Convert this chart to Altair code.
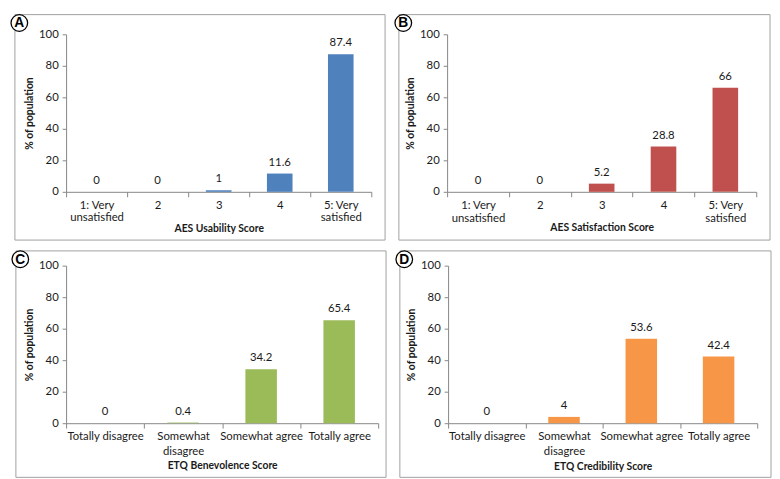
import altair as alt
import pandas as pd

FONT = "Lato"

a_cats = ["1: Very\nunsatisfied", "2", "3", "4", "5: Very\nsatisfied"]
a_vals = [0, 0, 1, 11.6, 87.4]
b_cats = ["1: Very\nunsatisfied", "2", "3", "4", "5: Very\nsatisfied"]
b_vals = [0, 0, 5.2, 28.8, 66]
c_cats = ["Totally disagree", "Somewhat\ndisagree", "Somewhat agree", "Totally agree"]
c_vals = [0, 0.4, 34.2, 65.4]
d_cats = ["Totally disagree", "Somewhat\ndisagree", "Somewhat agree", "Totally agree"]
d_vals = [0, 4, 53.6, 42.4]
y_ticks = [0, 20, 40, 60, 80, 100]


def panel(cats, vals, color, letter, xtitle, w, bar_w, box, circle, title_y, line_h):
    h = 160
    df = pd.DataFrame({"cat": cats, "value": vals})
    base = alt.Chart(df)
    x = alt.X(
        "cat:N", sort=cats,
        scale=alt.Scale(paddingInner=0, paddingOuter=0),
        axis=alt.Axis(
            title=xtitle, labelAngle=0, tickBand="extent",
            labelExpr="split(datum.label, '\\n')", labelLineHeight=line_h,
            tickSize=5, labelPadding=3, titleY=title_y, titleBaseline="middle",
            labelLimit=200,
        ),
    )
    y = alt.Y(
        "value:Q", scale=alt.Scale(domain=[0, 100]),
        axis=alt.Axis(title="% of population", values=y_ticks, tickSize=4,
                      labelPadding=4, grid=False),
    )
    bars = base.mark_bar(size=bar_w, color=color).encode(x=x, y=y)
    labels = base.mark_text(dy=-6, baseline="bottom", fontSize=11.5, font=FONT,
                            color="#1a1a1a").encode(
        x=x, y=y, text=alt.Text("value:Q", format="~g"))
    one = alt.Chart(pd.DataFrame({"k": [0]}))
    bl, bt, br, bb = box
    border = one.mark_rect(fillOpacity=0, stroke="#a0a0a0", strokeWidth=1).encode(
        x=alt.value(bl), x2=alt.value(w + br), y=alt.value(bt), y2=alt.value(h + bb))
    cx, cy = circle
    circ = one.mark_circle(size=284, fill="white", stroke="black", strokeWidth=1.3,
                           opacity=1).encode(x=alt.value(cx), y=alt.value(cy))
    let = one.mark_text(text=letter, fontWeight="bold", fontSize=14,
                        font="Liberation Sans", align="center", baseline="middle",
                        color="black").encode(x=alt.value(cx), y=alt.value(cy + 0.5))
    return alt.layer(border, bars, labels, circ, let).properties(width=w, height=h)


pa = panel(a_cats, a_vals, "#4F81BD", "A", "AES Usability Score", 310, 26,
           (-52, -20, 14, 49), (-47.5, -11.5), 37, 12.5)
pb = panel(b_cats, b_vals, "#C0504D", "B", "AES Satisfaction Score", 314, 26,
           (-49, -20, 14, 49), (-44.5, -11.5), 36, 13)
pc = panel(c_cats, c_vals, "#9BBB59", "C", "ETQ Benevolence Score", 317, 32,
           (-51, -15, 8, 55), (-46.5, -6.5), 43, 15)
pd_ = panel(d_cats, d_vals, "#F79646", "D", "ETQ Credibility Score", 314, 32,
            (-49, -15, 14, 55), (-44.5, -6.5), 44, 15)

row1 = alt.hconcat(pa, pb, spacing=6)
row2 = alt.hconcat(pc, pd_, spacing=6)
chart = alt.vconcat(row1, row2, spacing=7).properties(padding=0).configure_view(
    stroke=None
).configure_axis(
    labelFont=FONT, titleFont=FONT, labelFontSize=11.5, titleFontSize=10.5,
    titleFontWeight="bold", labelColor="#1a1a1a", titleColor="#1a1a1a",
    domainColor="#868686", tickColor="#868686",
)

chart.save("out.html", embed_options={"renderer": "svg", "actions": False})
